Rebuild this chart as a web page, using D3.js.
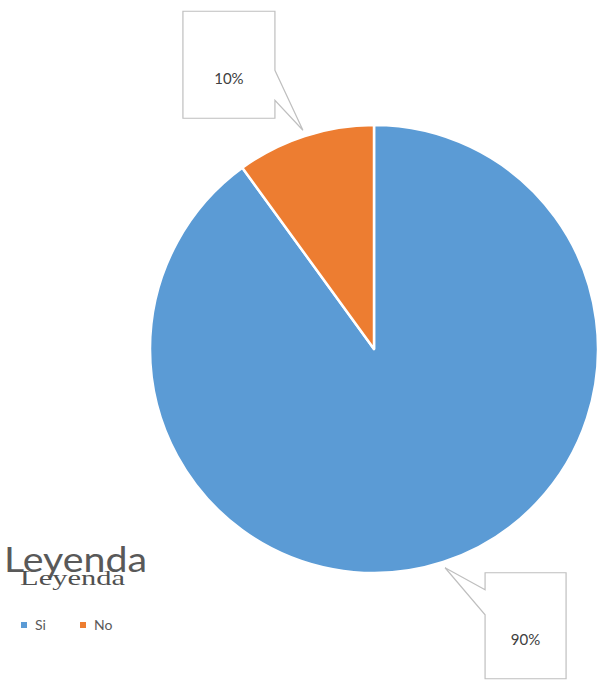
<!DOCTYPE html>
<html>
<head>
<meta charset="utf-8">
<script src="https://cdn.jsdelivr.net/npm/d3@7"></script>
<style>
  html, body { margin: 0; padding: 0; background: #fff; }
  svg { display: block; }
</style>
</head>
<body>
<svg id="chart" width="599" height="682"></svg>
<script>
// Survey answers and their share of responses
const categories = ["Si", "No"];
const values = [90, 10];
const labels = ["90%", "10%"];
const colors = ["#5B9BD5", "#ED7D31"];

const svg = d3.select("#chart");
const cx = 374, cy = 349, radius = 224;

const pie = d3.pie().sort(null).value(d => d.value);
const arcs = pie(categories.map((c, i) => ({ cat: c, value: values[i], label: labels[i], color: colors[i] })));

const arc = d3.arc().innerRadius(0).outerRadius(radius);
const tipArc = d3.arc().innerRadius(230).outerRadius(230);

const g = svg.append("g").attr("transform", `translate(${cx},${cy})`);

g.selectAll("path.slice")
  .data(arcs)
  .join("path")
  .attr("class", "slice")
  .attr("d", arc)
  .attr("fill", d => d.data.color)
  .attr("stroke", "#fff")
  .attr("stroke-width", 2.5)
  .attr("stroke-linejoin", "round");

// Callout boxes: box offset relative to the pointer tip, pointer side and span
const callouts = {
  "No": { dx: -120, dy: -119, w: 92, h: 107, side: "right", p0: 59, p1: 89 },
  "Si": { dx: 40, dy: 5, w: 81, h: 106, side: "left", p0: 17, p1: 42 }
};

arcs.forEach(d => {
  const c = callouts[d.data.cat];
  const a = (d.startAngle + d.endAngle) / 2;
  const tx = cx + 230 * Math.sin(a);
  const ty = cy - 230 * Math.cos(a);
  const x0 = tx + c.dx, y0 = ty + c.dy, x1 = x0 + c.w, y1 = y0 + c.h;
  let pts;
  if (c.side === "right") {
    pts = [[x0, y0], [x1, y0], [x1, y0 + c.p0], [tx, ty], [x1, y0 + c.p1], [x1, y1], [x0, y1]];
  } else {
    pts = [[x0, y0], [x1, y0], [x1, y1], [x0, y1], [x0, y0 + c.p1], [tx, ty], [x0, y0 + c.p0]];
  }
  svg.append("path")
    .attr("d", d3.line()(pts) + "Z")
    .attr("fill", "#fff")
    .attr("stroke", "#bfbfbf")
    .attr("stroke-width", 1.2);
  svg.append("text")
    .attr("x", (x0 + x1) / 2)
    .attr("y", y0 + c.h * 0.68)
    .attr("text-anchor", "middle")
    .attr("font-family", "Lato, 'Open Sans', sans-serif")
    .attr("font-size", 15)
    .attr("fill", "#404040")
    .text(d.data.label);
});

// Legend title (drawn twice, sans and serif)
svg.append("text")
  .attr("x", 4).attr("y", 572)
  .attr("font-family", "Lato, 'Open Sans', sans-serif")
  .attr("font-size", 35)
  .attr("fill", "#595959")
  .attr("textLength", 143)
  .attr("lengthAdjust", "spacingAndGlyphs")
  .text("Leyenda");
svg.append("text")
  .attr("x", 20).attr("y", 585)
  .attr("font-family", "'Liberation Serif', 'Times New Roman', serif")
  .attr("font-size", 22)
  .attr("fill", "#505050")
  .attr("textLength", 105)
  .attr("lengthAdjust", "spacingAndGlyphs")
  .text("Leyenda");

// Legend entries
const legendX = [21, 80];
const leg = svg.selectAll("g.leg")
  .data(categories)
  .join("g")
  .attr("class", "leg")
  .attr("transform", (d, i) => `translate(${legendX[i]},622)`);
leg.append("rect")
  .attr("width", 6).attr("height", 6)
  .attr("fill", (d, i) => colors[i]);
leg.append("text")
  .attr("x", 14).attr("y", 8)
  .attr("font-family", "Lato, 'Open Sans', sans-serif")
  .attr("font-size", 14)
  .attr("fill", "#595959")
  .text(d => d);
</script>
</body>
</html>
